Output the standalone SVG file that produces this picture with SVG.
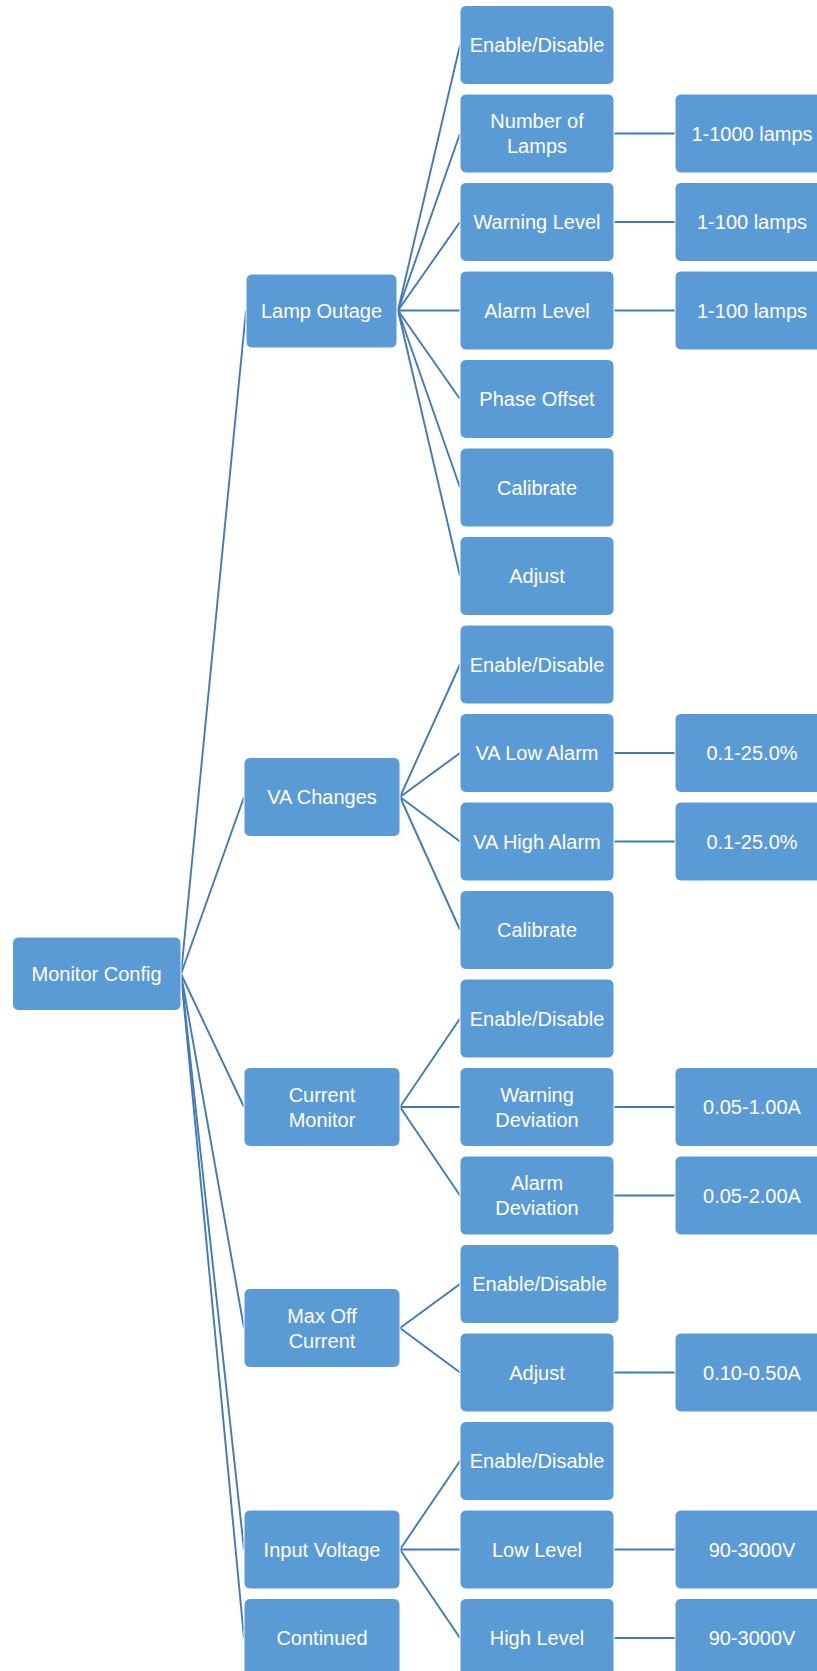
<svg xmlns="http://www.w3.org/2000/svg" width="817" height="1671" viewBox="0 0 817 1671">
<style>
.b{fill:#5B9BD5;stroke:#ffffff;stroke-width:1}
.t{fill:#ffffff;font-family:"Liberation Sans",Arial,sans-serif;font-size:20px;text-anchor:middle}
.c{stroke:#4279B8;stroke-width:1.9;fill:none}
</style>
<rect width="817" height="1671" fill="#ffffff"/>
<g id="connectors" class="c">
<line x1="181" y1="974" x2="246" y2="310.5"/>
<line x1="181" y1="974" x2="244" y2="797"/>
<line x1="181" y1="974" x2="244" y2="1107"/>
<line x1="181" y1="974" x2="244" y2="1328"/>
<line x1="181" y1="974" x2="244" y2="1549.5"/>
<line x1="181" y1="974" x2="244" y2="1638"/>
<line x1="398" y1="310.5" x2="460" y2="45"/>
<line x1="398" y1="310.5" x2="460" y2="133.5"/>
<line x1="398" y1="310.5" x2="460" y2="222"/>
<line x1="398" y1="310.5" x2="460" y2="310.5"/>
<line x1="398" y1="310.5" x2="460" y2="399"/>
<line x1="398" y1="310.5" x2="460" y2="487.5"/>
<line x1="398" y1="310.5" x2="460" y2="576"/>
<line x1="400" y1="797" x2="460" y2="664.5"/>
<line x1="400" y1="797" x2="460" y2="753"/>
<line x1="400" y1="797" x2="460" y2="841.5"/>
<line x1="400" y1="797" x2="460" y2="930"/>
<line x1="400" y1="1107" x2="460" y2="1018.5"/>
<line x1="400" y1="1107" x2="460" y2="1107"/>
<line x1="400" y1="1107" x2="460" y2="1195.5"/>
<line x1="400" y1="1328" x2="460" y2="1284"/>
<line x1="400" y1="1328" x2="460" y2="1372.5"/>
<line x1="400" y1="1549.5" x2="460" y2="1461"/>
<line x1="400" y1="1549.5" x2="460" y2="1549.5"/>
<line x1="400" y1="1549.5" x2="460" y2="1638"/>
<line x1="614" y1="133.5" x2="675" y2="133.5"/>
<line x1="614" y1="222" x2="675" y2="222"/>
<line x1="614" y1="310.5" x2="675" y2="310.5"/>
<line x1="614" y1="753" x2="675" y2="753"/>
<line x1="614" y1="841.5" x2="675" y2="841.5"/>
<line x1="614" y1="1107" x2="675" y2="1107"/>
<line x1="614" y1="1195.5" x2="675" y2="1195.5"/>
<line x1="614" y1="1372.5" x2="675" y2="1372.5"/>
<line x1="614" y1="1549.5" x2="675" y2="1549.5"/>
<line x1="614" y1="1638" x2="675" y2="1638"/>
</g>
<g id="monitor-config"><rect class="b" x="12.5" y="937" width="168.5" height="73.5" rx="6"/><text class="t" x="96.5" y="981">Monitor Config</text></g>
<g id="lamp-outage"><rect class="b" x="246" y="274" width="151" height="74" rx="6"/><text class="t" x="321.5" y="318">Lamp Outage</text></g>
<g id="va-changes"><rect class="b" x="244" y="757.5" width="156" height="79" rx="6"/><text class="t" x="322" y="804">VA Changes</text></g>
<g id="current-monitor"><rect class="b" x="244" y="1067.5" width="156" height="79" rx="6"/><text class="t" x="322" y="1101.5">Current</text><text class="t" x="322" y="1126.5">Monitor</text></g>
<g id="max-off-current"><rect class="b" x="244" y="1288.5" width="156" height="79" rx="6"/><text class="t" x="322" y="1322.5">Max Off</text><text class="t" x="322" y="1347.5">Current</text></g>
<g id="input-voltage"><rect class="b" x="244" y="1510" width="156" height="79" rx="6"/><text class="t" x="322" y="1556.5">Input Voltage</text></g>
<g id="continued"><rect class="b" x="244" y="1598.5" width="156" height="79" rx="6"/><text class="t" x="322" y="1645">Continued</text></g>
<g id="lo-enable"><rect class="b" x="460" y="5.5" width="154" height="79" rx="6"/><text class="t" x="537" y="52">Enable/Disable</text></g>
<g id="lo-number"><rect class="b" x="460" y="94" width="154" height="79" rx="6"/><text class="t" x="537" y="128">Number of</text><text class="t" x="537" y="153">Lamps</text></g>
<g id="lo-warning"><rect class="b" x="460" y="182.5" width="154" height="79" rx="6"/><text class="t" x="537" y="229">Warning Level</text></g>
<g id="lo-alarm"><rect class="b" x="460" y="271" width="154" height="79" rx="6"/><text class="t" x="537" y="317.5">Alarm Level</text></g>
<g id="lo-phase"><rect class="b" x="460" y="359.5" width="154" height="79" rx="6"/><text class="t" x="537" y="406">Phase Offset</text></g>
<g id="lo-calibrate"><rect class="b" x="460" y="448" width="154" height="79" rx="6"/><text class="t" x="537" y="494.5">Calibrate</text></g>
<g id="lo-adjust"><rect class="b" x="460" y="536.5" width="154" height="79" rx="6"/><text class="t" x="537" y="583">Adjust</text></g>
<g id="va-enable"><rect class="b" x="460" y="625" width="154" height="79" rx="6"/><text class="t" x="537" y="671.5">Enable/Disable</text></g>
<g id="va-low"><rect class="b" x="460" y="713.5" width="154" height="79" rx="6"/><text class="t" x="537" y="760">VA Low Alarm</text></g>
<g id="va-high"><rect class="b" x="460" y="802" width="154" height="79" rx="6"/><text class="t" x="537" y="848.5">VA High Alarm</text></g>
<g id="va-calibrate"><rect class="b" x="460" y="890.5" width="154" height="79" rx="6"/><text class="t" x="537" y="937">Calibrate</text></g>
<g id="cm-enable"><rect class="b" x="460" y="979" width="154" height="79" rx="6"/><text class="t" x="537" y="1025.5">Enable/Disable</text></g>
<g id="cm-warning"><rect class="b" x="460" y="1067.5" width="154" height="79" rx="6"/><text class="t" x="537" y="1101.5">Warning</text><text class="t" x="537" y="1126.5">Deviation</text></g>
<g id="cm-alarm"><rect class="b" x="460" y="1156" width="154" height="79" rx="6"/><text class="t" x="537" y="1190">Alarm</text><text class="t" x="537" y="1215">Deviation</text></g>
<g id="mo-enable"><rect class="b" x="460" y="1244.5" width="159" height="79" rx="6"/><text class="t" x="539.5" y="1291">Enable/Disable</text></g>
<g id="mo-adjust"><rect class="b" x="460" y="1333" width="154" height="79" rx="6"/><text class="t" x="537" y="1379.5">Adjust</text></g>
<g id="iv-enable"><rect class="b" x="460" y="1421.5" width="154" height="79" rx="6"/><text class="t" x="537" y="1468">Enable/Disable</text></g>
<g id="iv-low"><rect class="b" x="460" y="1510" width="154" height="79" rx="6"/><text class="t" x="537" y="1556.5">Low Level</text></g>
<g id="iv-high"><rect class="b" x="460" y="1598.5" width="154" height="79" rx="6"/><text class="t" x="537" y="1645">High Level</text></g>
<g id="v-lamps1000"><rect class="b" x="675" y="94" width="154" height="79" rx="6"/><text class="t" x="752" y="140.5">1-1000 lamps</text></g>
<g id="v-warn100"><rect class="b" x="675" y="182.5" width="154" height="79" rx="6"/><text class="t" x="752" y="229">1-100 lamps</text></g>
<g id="v-alarm100"><rect class="b" x="675" y="271" width="154" height="79" rx="6"/><text class="t" x="752" y="317.5">1-100 lamps</text></g>
<g id="v-valow"><rect class="b" x="675" y="713.5" width="154" height="79" rx="6"/><text class="t" x="752" y="760">0.1-25.0%</text></g>
<g id="v-vahigh"><rect class="b" x="675" y="802" width="154" height="79" rx="6"/><text class="t" x="752" y="848.5">0.1-25.0%</text></g>
<g id="v-cmwarn"><rect class="b" x="675" y="1067.5" width="154" height="79" rx="6"/><text class="t" x="752" y="1114">0.05-1.00A</text></g>
<g id="v-cmalarm"><rect class="b" x="675" y="1156" width="154" height="79" rx="6"/><text class="t" x="752" y="1202.5">0.05-2.00A</text></g>
<g id="v-moadjust"><rect class="b" x="675" y="1333" width="154" height="79" rx="6"/><text class="t" x="752" y="1379.5">0.10-0.50A</text></g>
<g id="v-ivlow"><rect class="b" x="675" y="1510" width="154" height="79" rx="6"/><text class="t" x="752" y="1556.5">90-3000V</text></g>
<g id="v-ivhigh"><rect class="b" x="675" y="1598.5" width="154" height="79" rx="6"/><text class="t" x="752" y="1645">90-3000V</text></g>
</svg>
